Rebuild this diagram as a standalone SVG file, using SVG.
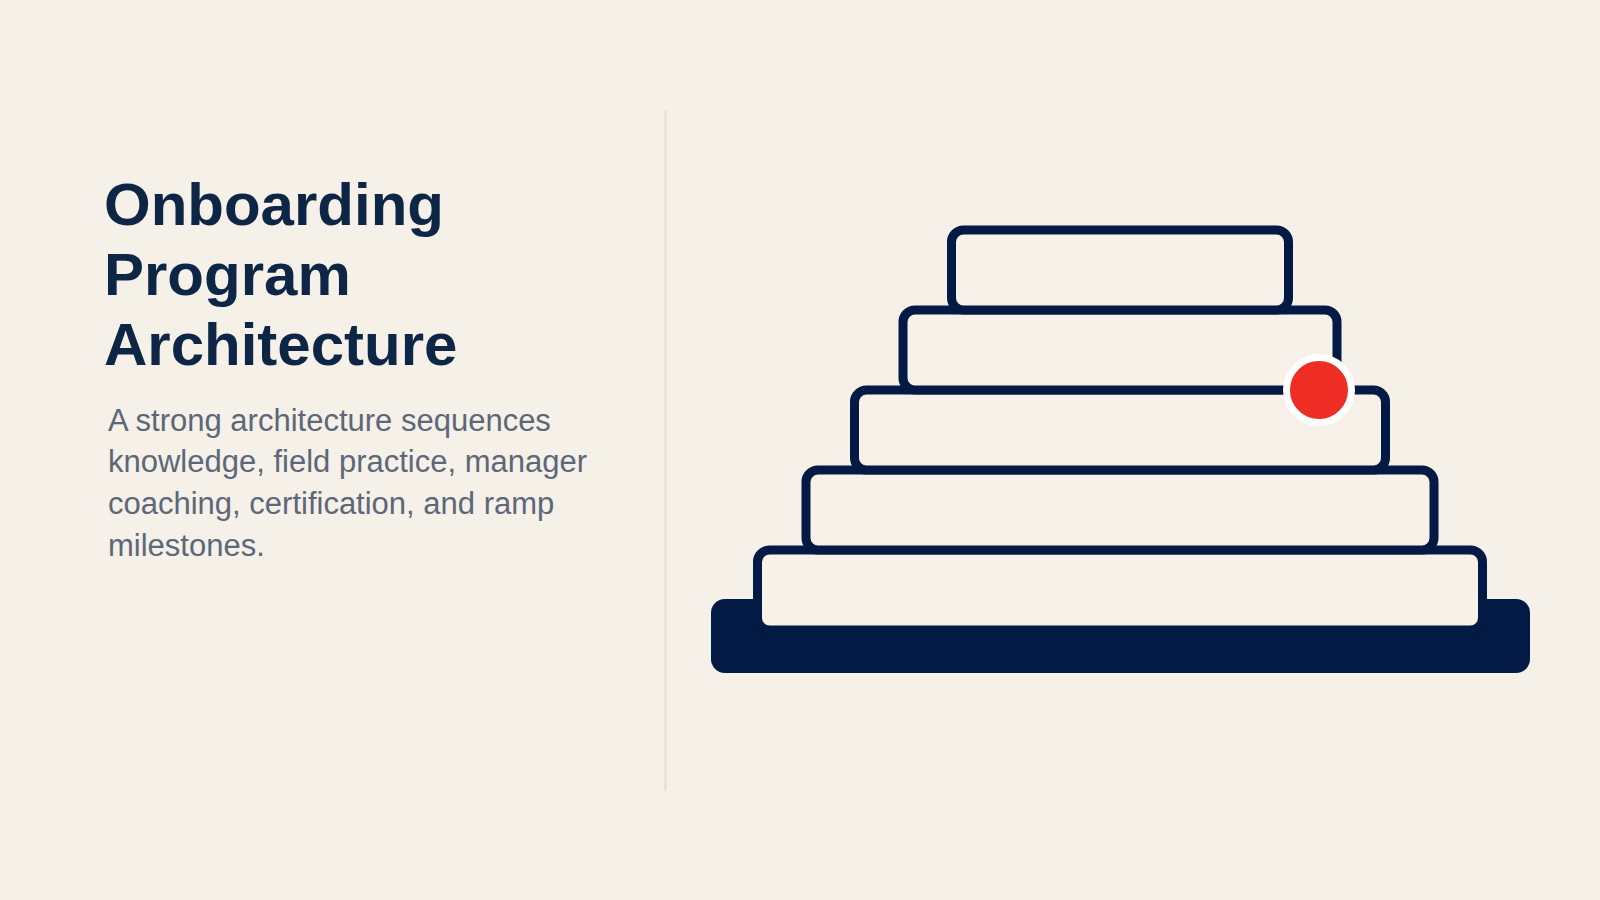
<svg xmlns="http://www.w3.org/2000/svg" width="1600" height="900" viewBox="0 0 1600 900">
<style>
.title{font-family:"Liberation Sans",Arial,sans-serif;font-weight:700;font-size:60px;fill:#0e2646}
.sub{font-family:"Liberation Sans",Arial,sans-serif;font-size:31px;fill:#5d6778}
.tier{fill:#f8f1ea;stroke:#021a44;stroke-width:9}
</style>
<rect x="0" y="0" width="1600" height="900" fill="#f5f0e8"/>
<g id="heading">
<text class="title" x="104" y="225">Onboarding</text>
<text class="title" x="104" y="295">Program</text>
<text class="title" x="104" y="365">Architecture</text>
</g>
<g id="description">
<text class="sub" x="108" y="431">A strong architecture sequences</text>
<text class="sub" x="108" y="472">knowledge, field practice, manager</text>
<text class="sub" x="108" y="514">coaching, certification, and ramp</text>
<text class="sub" x="108" y="556">milestones.</text>
</g>
<line x1="665.5" y1="110" x2="665.5" y2="791" stroke="#e7dece" stroke-width="2"/>
<g id="base"><rect x="711" y="599" width="819" height="74" rx="14" fill="#021a44"/></g>
<g id="tier5"><rect class="tier" x="757.5" y="550" width="725" height="80" rx="12"/></g>
<g id="tier4"><rect class="tier" x="806" y="470" width="628" height="80" rx="12"/></g>
<g id="tier3"><rect class="tier" x="854.5" y="390" width="531" height="80" rx="12"/></g>
<g id="tier2"><rect class="tier" x="903" y="310" width="434" height="80" rx="12"/></g>
<g id="tier1"><rect class="tier" x="951.5" y="230" width="337" height="80" rx="12"/></g>
<g id="marker"><circle cx="1319" cy="390" r="32.5" fill="#ee2e24" stroke="#ffffff" stroke-width="7"/></g>
</svg>
